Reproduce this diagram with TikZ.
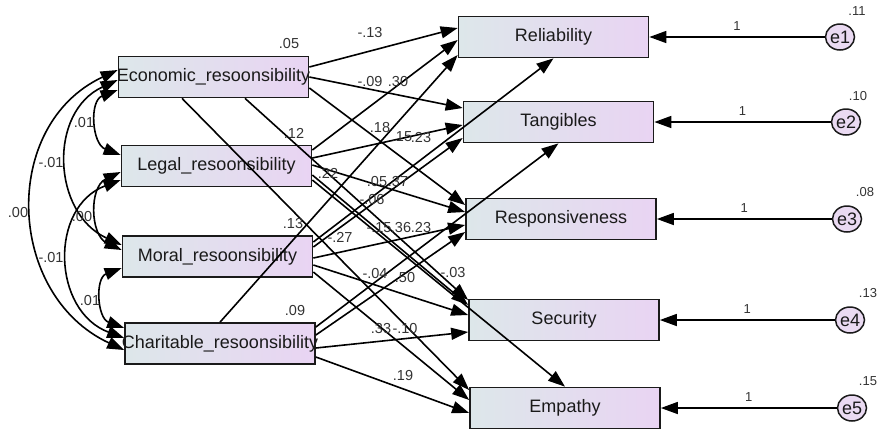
\documentclass[tikz,border=0pt]{standalone}
\usepackage{fontspec}
\setmainfont{Liberation Sans}
\usetikzlibrary{arrows.meta,shapes.geometric}
\definecolor{boxleft}{HTML}{DDE7EA}
\definecolor{boxright}{HTML}{E9D4F3}
\definecolor{errfill}{HTML}{EADAF2}
\definecolor{ink}{HTML}{1A1A1A}
\begin{document}
\begin{tikzpicture}[x=1pt,y=1pt,
    var/.style={draw=ink, line width=1.7pt, minimum width=190pt, minimum height=41pt, inner sep=0pt,
        left color=boxleft, right color=boxright, font=\fontsize{18}{20}\selectfont, text=ink},
    err/.style={ellipse, draw=ink, line width=1.5pt, fill=errfill, minimum width=29pt,
        minimum height=26pt, inner sep=0pt, font=\fontsize{18}{20}\selectfont, text=ink},
    reg/.style={line width=1.6pt, draw=black, -{Triangle[length=17pt,width=12pt]}},
    cov/.style={line width=1.6pt, draw=black, {Triangle[length=17pt,width=12pt]}-{Triangle[length=17pt,width=12pt]}},
    lbl/.style={font=\fontsize{14.5}{16}\selectfont, text=black!80, inner sep=0pt},
    smalllbl/.style={font=\fontsize{13}{15}\selectfont, text=black!80, inner sep=0pt}]
    \useasboundingbox (0,0) rectangle (882,-432);

    % exogenous
    \node[var] (econ) at (213.5,-77) {\makebox[0pt]{Economic\_resoonsibility}};
    \node[var] (legal) at (216.5,-166) {Legal\_resoonsibility};
    \node[var] (moral) at (217.5,-256.5) {Moral\_resoonsibility};
    \node[var] (char) at (220,-343.5) {\makebox[0pt]{Charitable\_resoonsibility}};
    % endogenous
    \node[var] (rel) at (553.5,-37) {Reliability};
    \node[var] (tan) at (558.5,-122) {Tangibles};
    \node[var] (resp) at (561,-219) {Responsiveness};
    \node[var] (sec) at (564,-320) {Security};
    \node[var] (emp) at (565,-408) {Empathy};
    % errors
    \node[err] (e1) at (840,-37) {e1};
    \node[err] (e2) at (846,-122) {e2};
    \node[err] (e3) at (847,-219) {e3};
    \node[err] (e4) at (850,-320) {e4};
    \node[err] (e5) at (852,-408) {e5};

    \draw[reg] (e1) -- (rel) node[smalllbl, midway, above=6pt] (w1) {1};
    \draw[reg] (e2) -- (tan) node[smalllbl, midway, above=6pt] (w2) {1};
    \draw[reg] (e3) -- (resp) node[smalllbl, midway, above=6pt] (w3) {1};
    \draw[reg] (e4) -- (sec) node[smalllbl, midway, above=6pt] (w4) {1};
    \draw[reg] (e5) -- (emp) node[smalllbl, midway, above=6pt] (w5) {1};

    % paths
    \draw[reg] (econ.east |- 0,-67) -- (rel.west |- 0,-28);
    \draw[reg] (econ.east |- 0,-77) -- (tan.west |- 0,-108);
    \draw[reg] (econ.east |- 0,-88) -- (resp.west |- 0,-205);
    \draw[reg] (econ.south -| 245,0) -- (sec.west |- 0,-300);
    \draw[reg] (econ.south -| 182,0) -- (emp.west |- 0,-390);

    \draw[reg] (legal.east |- 0,-150) -- (rel.west |- 0,-40);
    \draw[reg] (legal.east |- 0,-158) -- (tan.west |- 0,-125);
    \draw[reg] (legal.east |- 0,-165) -- (resp.west |- 0,-212);
    \draw[reg] (legal.east |- 0,-175) -- (sec.west |- 0,-305);
    \draw[reg] (legal.east |- 0,-180) -- (emp.north);

    \draw[reg] (moral.east |- 0,-242) -- (rel.south);
    \draw[reg] (moral.east |- 0,-247) -- (tan.west |- 0,-138);
    \draw[reg] (moral.east |- 0,-258) -- (resp.west |- 0,-225);
    \draw[reg] (moral.east |- 0,-265) -- (sec.west |- 0,-315);
    \draw[reg] (moral.east |- 0,-272) -- (emp.west |- 0,-400);

    \draw[reg] (char.north) -- (rel.west |- 0,-55);
    \draw[reg] (char.east |- 0,-327) -- (tan.south);
    \draw[reg] (char.east |- 0,-335) -- (resp.west |- 0,-232);
    \draw[reg] (char.east |- 0,-348) -- (sec.west |- 0,-332);
    \draw[reg] (char.east |- 0,-357) -- (emp.west |- 0,-413);

    % covariances
    \draw[cov] (econ.west |- 0,-90) .. controls (89,-101) and (92,-144) .. (legal.west |- 0,-155);
    \draw[cov] (econ.west |- 0,-80) .. controls (48,-112) and (52,-213) .. (moral.west |- 0,-245);
    \draw[cov] (econ.west |- 0,-70) .. controls (0,-125) and (6,-295) .. (char.west |- 0,-350);
    \draw[cov] (legal.west |- 0,-172) .. controls (89,-187) and (90,-235) .. (moral.west |- 0,-250);
    \draw[cov] (legal.west |- 0,-180) .. controls (49,-207) and (52,-311) .. (char.west |- 0,-338);
    \draw[cov] (moral.west |- 0,-268) .. controls (95,-278) and (97,-318) .. (char.west |- 0,-328);

    % covariance estimates
    \node[lbl] (c1) at (84,-123) {.01};
    \node[lbl] (c2) at (51,-163) {-.01};
    \node[lbl] (c3) at (18,-213) {.00};
    \node[lbl] (c4) at (82,-217) {.00};
    \node[lbl] (c5) at (51,-257) {-.01};
    \node[lbl] (c6) at (90,-300) {.01};

    % variances
    \node[lbl] (v1) at (289,-44) {.05};
    \node[lbl] (v2) at (294,-133) {.12};
    \node[lbl] (v3) at (293,-223) {.13};
    \node[lbl] (v4) at (295,-310) {.09};
    \node[smalllbl] (u1) at (857,-11) {.11};
    \node[smalllbl] (u2) at (858,-96) {.10};
    \node[smalllbl] (u3) at (865,-192) {.08};
    \node[smalllbl] (u4) at (868,-293) {.13};
    \node[smalllbl] (u5) at (868,-381) {.15};

    % path estimates
    \node[lbl] (p1) at (370,-33) {-.13};
    \node[lbl] (p2) at (370,-82) {-.09};
    \node[lbl] (p3) at (398,-82) {.30};
    \node[lbl] (p4) at (380,-128) {.18};
    \node[lbl] (p5) at (402,-137) {.15};
    \node[lbl] (p6) at (421,-138) {.23};
    \node[lbl] (p7) at (328,-173) {.22};
    \node[lbl] (p8) at (377,-182) {.05};
    \node[lbl] (p9) at (398,-182) {.37};
    \node[lbl] (p10) at (372,-200) {-.06};
    \node[lbl] (p11) at (340,-237) {-.27};
    \node[lbl] (p12) at (379,-228) {-.15};
    \node[lbl] (p13) at (401,-228) {.36};
    \node[lbl] (p14) at (421,-227) {.23};
    \node[lbl] (p15) at (375,-273) {-.04};
    \node[lbl] (p16) at (405,-277) {.50};
    \node[lbl] (p17) at (453,-272) {-.03};
    \node[lbl] (p18) at (381,-328) {.33};
    \node[lbl] (p19) at (405,-328) {-.10};
    \node[lbl] (p20) at (403,-375) {.19};
\end{tikzpicture}
\end{document}
